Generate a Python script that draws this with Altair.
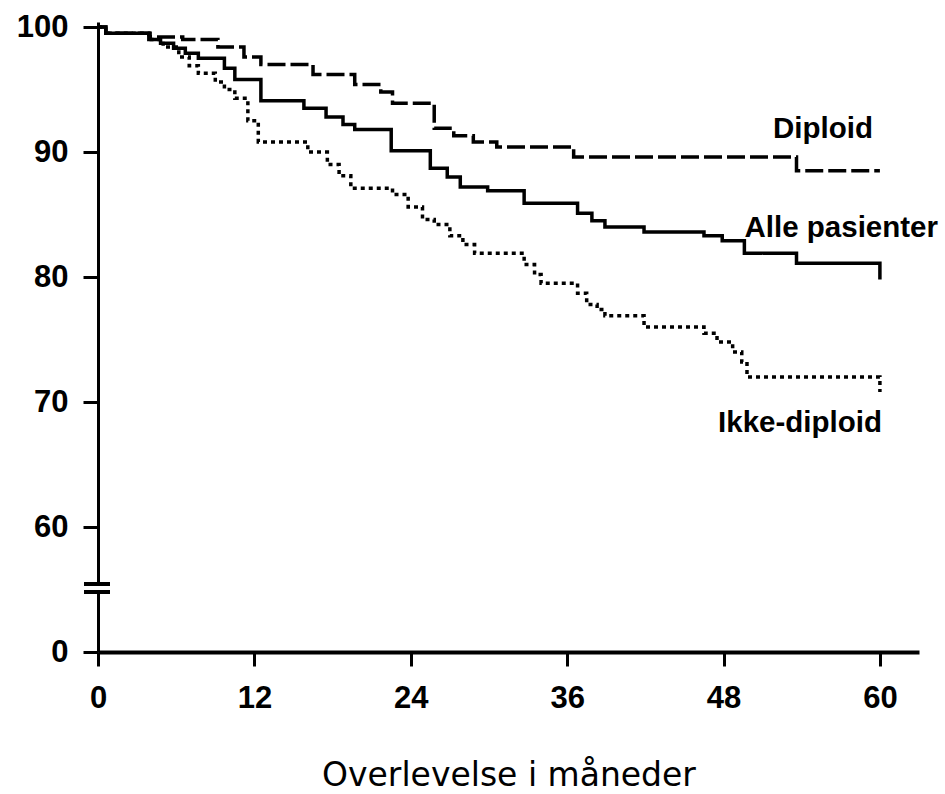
import altair as alt
import pandas as pd

# Kaplan-Meier style survival curves (months, % surviving)
diploid_months = [0, 0.6, 4.0, 6.5, 9.2, 11.2, 12.5, 16.5, 19.7, 21.7, 22.6, 25.8, 27.3, 28.8, 30.6, 36.5, 53.6, 60]
diploid_values = [100, 99.5, 99.2, 99.0, 98.4, 97.6, 97.0, 96.2, 95.4, 94.8, 93.9, 91.9, 91.3, 90.8, 90.4, 89.6, 88.5, 88.5]

alle_months = [0, 0.6, 3.9, 4.8, 5.8, 6.7, 7.7, 9.7, 10.5, 12.5, 15.8, 17.5, 18.8, 19.7, 22.5, 25.5, 26.8, 27.8,
               29.9, 32.7, 36.8, 37.9, 38.9, 41.9, 46.5, 47.9, 49.6, 53.6, 60, 60]
alle_values = [100, 99.5, 99.0, 98.7, 98.3, 97.9, 97.5, 96.7, 95.8, 94.1, 93.5, 92.8, 92.2, 91.8, 90.1, 88.7, 88.0, 87.2,
               86.9, 85.9, 85.1, 84.5, 84.0, 83.6, 83.3, 82.9, 81.9, 81.1, 81.1, 79.8]

ikke_months = [0, 0.6, 3.9, 5.0, 6.2, 7.0, 7.7, 9.0, 9.7, 10.5, 11.5, 12.3, 16.1, 17.6, 18.5, 19.4, 22.6, 23.8, 24.9,
               25.8, 27.0, 28.0, 28.9, 32.7, 33.5, 34.0, 36.8, 37.5, 38.3, 38.9, 41.9, 46.5, 47.5, 48.7, 49.4, 49.8, 60, 60]
ikke_values = [100, 99.5, 99.0, 98.4, 97.6, 96.9, 96.3, 95.6, 95.0, 94.3, 92.5, 90.8, 90.0, 89.0, 88.1, 87.1, 86.6, 85.6, 84.6,
               84.2, 83.3, 82.6, 81.9, 81.0, 80.2, 79.5, 78.7, 77.8, 77.4, 76.9, 76.0, 75.5, 74.8, 74.0, 73.2, 72.0, 72.0, 70.8]

series_names = ["Alle pasienter", "Diploid", "Ikke-diploid"]
series_dashes = [[1, 0], [18, 5], [4, 4]]

x_ticks = [0, 12, 24, 36, 48, 60]
y_ticks = [50, 60, 70, 80, 90, 100]

rows = []
for name, ms, vs in [("Alle pasienter", alle_months, alle_values),
                     ("Diploid", diploid_months, diploid_values),
                     ("Ikke-diploid", ikke_months, ikke_values)]:
    for i, (m, v) in enumerate(zip(ms, vs)):
        rows.append({"serie": name, "m": m, "v": v, "order": i})
df = pd.DataFrame(rows)

FONT = "Liberation Sans"

x_scale = alt.Scale(domain=[0, 63], nice=False, zero=False)
y_scale = alt.Scale(domain=[50, 100.4], nice=False, zero=False)

lines = alt.Chart(df).mark_line(interpolate="step-after", color="black", strokeWidth=3.5).encode(
    x=alt.X("m:Q", scale=x_scale,
            axis=alt.Axis(values=x_ticks, title="Overlevelse i måneder", grid=False,
                          domainColor="black", domainWidth=4, tickColor="black", tickWidth=3, tickSize=14,
                          labelFont=FONT, labelFontWeight="bold", labelFontSize=31, labelColor="black",
                          labelPadding=17, labelFlush=False,
                          titleFont="DejaVu Sans", titleFontSize=33, titleFontWeight="normal", titleColor="black",
                          titleBaseline="alphabetic", titleY=133)),
    y=alt.Y("v:Q", scale=y_scale,
            axis=alt.Axis(values=y_ticks, title=None, grid=False,
                          labelExpr="datum.value == 50 ? '0' : datum.label",
                          domainColor="black", domainWidth=3, tickColor="black", tickWidth=3, tickSize=15,
                          labelFont=FONT, labelFontWeight="bold", labelFontSize=31, labelColor="black",
                          labelPadding=15, labelFlush=False)),
    strokeDash=alt.StrokeDash("serie:N", scale=alt.Scale(domain=series_names, range=series_dashes), legend=None),
    detail="serie:N",
    order="order:Q",
)

# axis break marks on the y axis
break_gap = alt.Chart(df).mark_rect(color="white").encode(
    x=alt.value(-4), x2=alt.value(5), y=alt.value(563), y2=alt.value(569))
break_top = alt.Chart(df).mark_rule(color="black", strokeWidth=3.5).encode(
    x=alt.value(-14), x2=alt.value(12), y=alt.value(562))
break_bot = alt.Chart(df).mark_rule(color="black", strokeWidth=3.5).encode(
    x=alt.value(-14), x2=alt.value(12), y=alt.value(570))

def label(text, px, py):
    return alt.Chart(pd.DataFrame({"t": [text]})).mark_text(
        font=FONT, fontWeight="bold", fontSize=29.5, color="black", align="right", baseline="alphabetic"
    ).encode(text="t:N", x=alt.value(px), y=alt.value(py))

chart = alt.layer(
    lines, break_gap, break_top, break_bot,
    label("Diploid", 775, 116),
    label("Alle pasienter", 840, 215),
    label("Ikke-diploid", 784, 410),
).properties(
    width=821, height=630,
    autosize=alt.AutoSizeParams(type="none"),
    padding={"left": 98, "top": 22, "right": 26, "bottom": 142},
    background="white",
).configure_view(stroke=None)

chart.save("out.html", embed_options={"renderer": "svg", "actions": False})
